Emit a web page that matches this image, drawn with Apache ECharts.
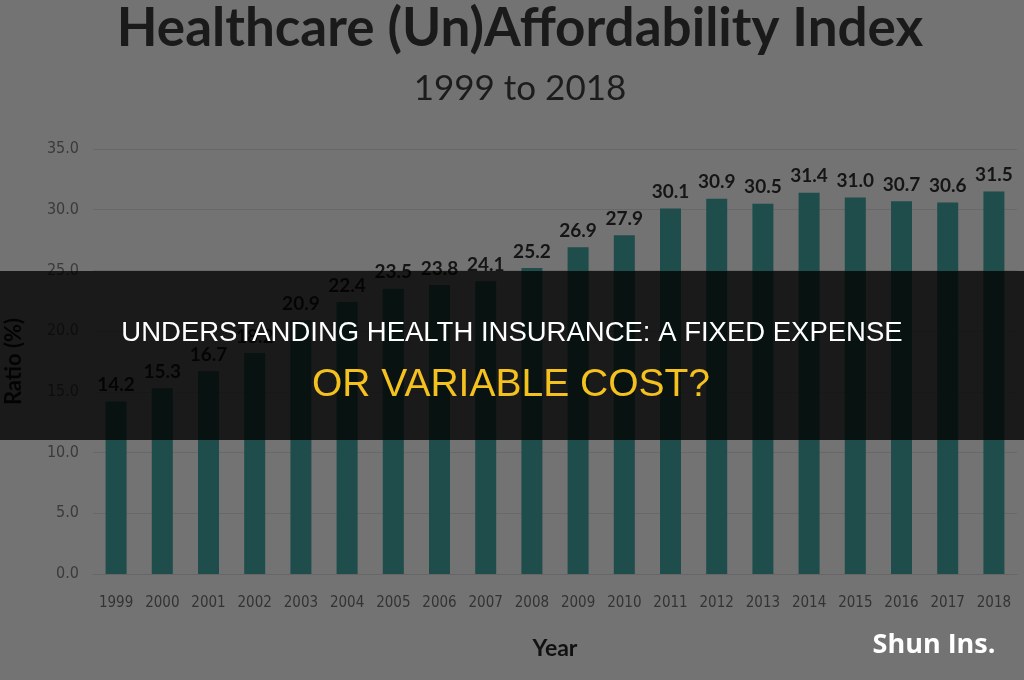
<!DOCTYPE html>
<html>
<head>
<meta charset="utf-8">
<script src="https://cdn.jsdelivr.net/npm/echarts@6/dist/echarts.min.js"></script>
<style>
  html, body { margin: 0; padding: 0; background: #737373; }
  #main { width: 1024px; height: 680px; }
</style>
</head>
<body>
<div id="main"></div>
<script>
var years = ['1999', '2000', '2001', '2002', '2003', '2004', '2005', '2006', '2007', '2008',
  '2009', '2010', '2011', '2012', '2013', '2014', '2015', '2016', '2017', '2018'];
var ratio = [14.2, 15.3, 16.7, 18.2, 20.9, 22.4, 23.5, 23.8, 24.1, 25.2,
  26.9, 27.9, 30.1, 30.9, 30.5, 31.4, 31.0, 30.7, 30.6, 31.5];
var yTicks = [0, 35, 5];  // min, max, step

var myChart = echarts.init(document.getElementById('main'));

var option = {
  backgroundColor: '#737373',
  animation: false,
  title: [{
    text: 'Healthcare (Un)Affordability Index',
    left: 515,
    textAlign: 'center',
    top: -3,
    textStyle: {
      fontFamily: 'Lato',
      fontWeight: 'bold',
      fontSize: 53,
      color: '#1a1a1a'
    }
  }, {
    text: '1999 to 2018',
    left: 515,
    textAlign: 'center',
    top: 66,
    textStyle: {
      fontFamily: 'Lato',
      fontWeight: 'normal',
      fontSize: 35,
      color: '#1c1c1c'
    }
  }],
  grid: {
    left: 93,
    right: 7,
    top: 149,
    bottom: 106,
    containLabel: false,
    outerBoundsMode: 'none'
  },
  xAxis: {
    type: 'category',
    data: years,
    name: 'Year',
    nameLocation: 'middle',
    nameGap: 63,
    nameTextStyle: {
      fontFamily: 'Lato',
      fontWeight: 'bold',
      fontSize: 23,
      color: '#111'
    },
    axisLine: {lineStyle: {color: '#666'}},
    axisTick: {show: false},
    axisLabel: {
      interval: 0,
      margin: 22,
      fontFamily: "'Liberation Sans Narrow', 'DejaVu Sans Condensed', sans-serif",
      fontSize: 15,
      color: '#333'
    }
  },
  yAxis: {
    type: 'value',
    min: yTicks[0],
    max: yTicks[1],
    interval: yTicks[2],
    name: 'Ratio (%)',
    nameLocation: 'middle',
    nameGap: 68,
    nameTextStyle: {
      fontFamily: 'Lato',
      fontWeight: 'bold',
      fontSize: 22,
      color: '#111'
    },
    axisLabel: {
      margin: 14,
      fontFamily: "'Liberation Sans Narrow', 'DejaVu Sans Condensed', sans-serif",
      fontSize: 16,
      color: '#3a3a3a',
      formatter: function (v) { return v.toFixed(1); }
    },
    splitLine: {lineStyle: {color: '#686868'}}
  },
  series: [{
    type: 'bar',
    data: ratio,
    barWidth: 21,
    itemStyle: {color: '#1e4d4b'},
    label: {
      show: true,
      position: 'top',
      distance: 7,
      fontFamily: 'Lato',
      fontWeight: 'bold',
      fontSize: 19,
      color: '#151515',
      formatter: function (p) { return p.value.toFixed(1); }
    }
  }],
  graphic: [{
    type: 'rect',
    z: 100,
    shape: {x: 0, y: 271, width: 1024, height: 169},
    style: {fill: 'rgba(0,0,0,0.77)'}
  }, {
    type: 'text',
    z: 101,
    x: 512,
    y: 333,
    style: {
      text: 'UNDERSTANDING HEALTH INSURANCE: A FIXED EXPENSE',
      fill: '#fff',
      fontFamily: 'Liberation Sans',
      fontSize: 27.5,
      align: 'center',
      verticalAlign: 'middle'
    }
  }, {
    type: 'text',
    z: 101,
    x: 511,
    y: 385,
    style: {
      text: 'OR VARIABLE COST?',
      fill: '#f4c11f',
      fontFamily: 'Liberation Sans',
      fontSize: 39,
      align: 'center',
      verticalAlign: 'middle'
    }
  }, {
    type: 'text',
    z: 101,
    x: 934,
    y: 645,
    style: {
      text: 'Shun Ins.',
      fill: '#fff',
      fontFamily: 'Open Sans',
      fontWeight: 'bold',
      fontSize: 27,
      align: 'center',
      verticalAlign: 'middle'
    }
  }]
};

myChart.setOption(option);
</script>
</body>
</html>
